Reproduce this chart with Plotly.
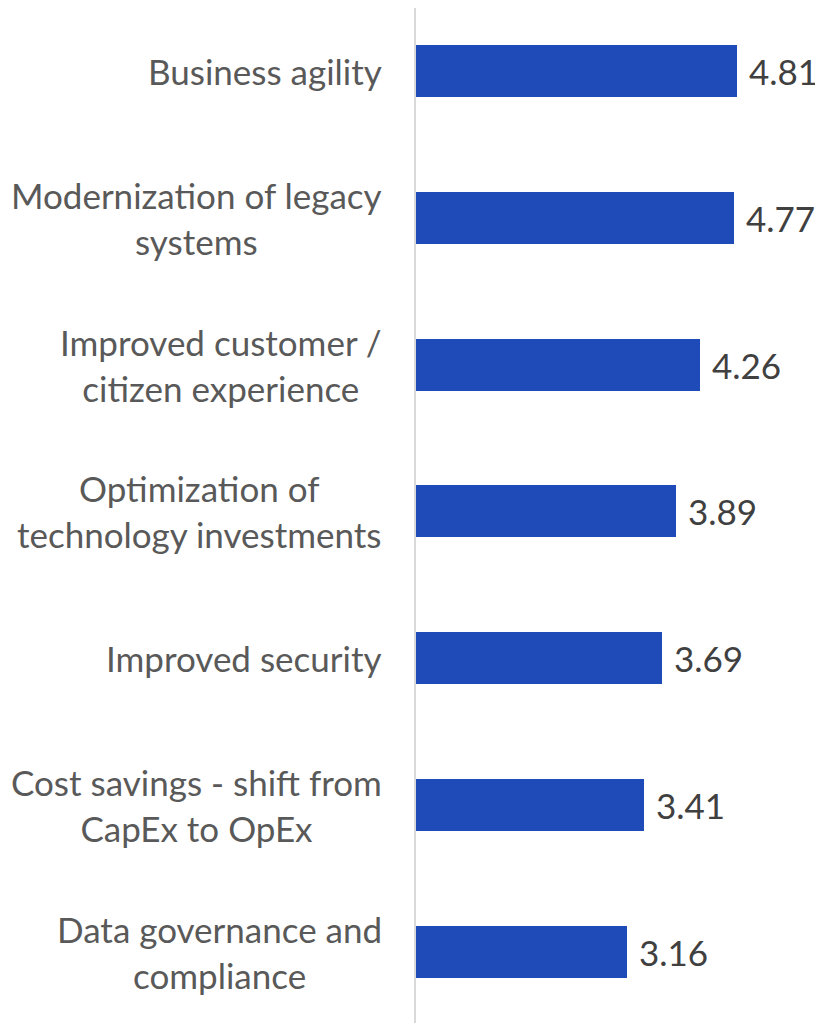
import plotly.graph_objects as go

categories = [
    "Business agility",
    "Modernization of legacy<br>systems",
    "Improved customer /<br>citizen experience",
    "Optimization of<br>technology investments",
    "Improved security",
    "Cost savings - shift from<br>CapEx to OpEx",
    "Data governance and<br>compliance",
]
values = [4.81, 4.77, 4.26, 3.89, 3.69, 3.41, 3.16]

FONT = "Lato"

fig = go.Figure()

fig.add_trace(go.Bar(
    x=values,
    y=list(range(len(categories))),
    orientation="h",
    width=0.354,
    marker=dict(color="#1f4bb8", line=dict(width=0)),
    hoverinfo="skip",
))

# category labels as annotations so wrapped lines stay centred
for i, cat in enumerate(categories):
    fig.add_annotation(
        x=0, xref="paper", y=i, yref="y",
        text=cat, showarrow=False,
        xanchor="right", yanchor="middle", align="center",
        xshift=-32,
        font=dict(family=FONT, size=35, color="#595959"),
    )

# value labels just past the end of each bar
for i, v in enumerate(values):
    fig.add_annotation(
        x=v, xref="x", y=i, yref="y",
        text=f"{v:.2f}", showarrow=False,
        xanchor="left", yanchor="middle",
        xshift=10,
        font=dict(family=FONT, size=35, color="#404040"),
    )

fig.update_layout(
    width=815, height=1015,
    margin=dict(l=408, r=0, t=0, b=0),
    paper_bgcolor="white", plot_bgcolor="white",
    showlegend=False,
    bargap=0,
)
fig.update_xaxes(range=[0, 6.1], visible=False, fixedrange=True)
fig.update_yaxes(
    range=[6.485, -0.429], showticklabels=False, showgrid=False, zeroline=False,
    showline=True, linecolor="#d9d9d9", linewidth=2, ticks="",
)

fig.write_html("out.html")
